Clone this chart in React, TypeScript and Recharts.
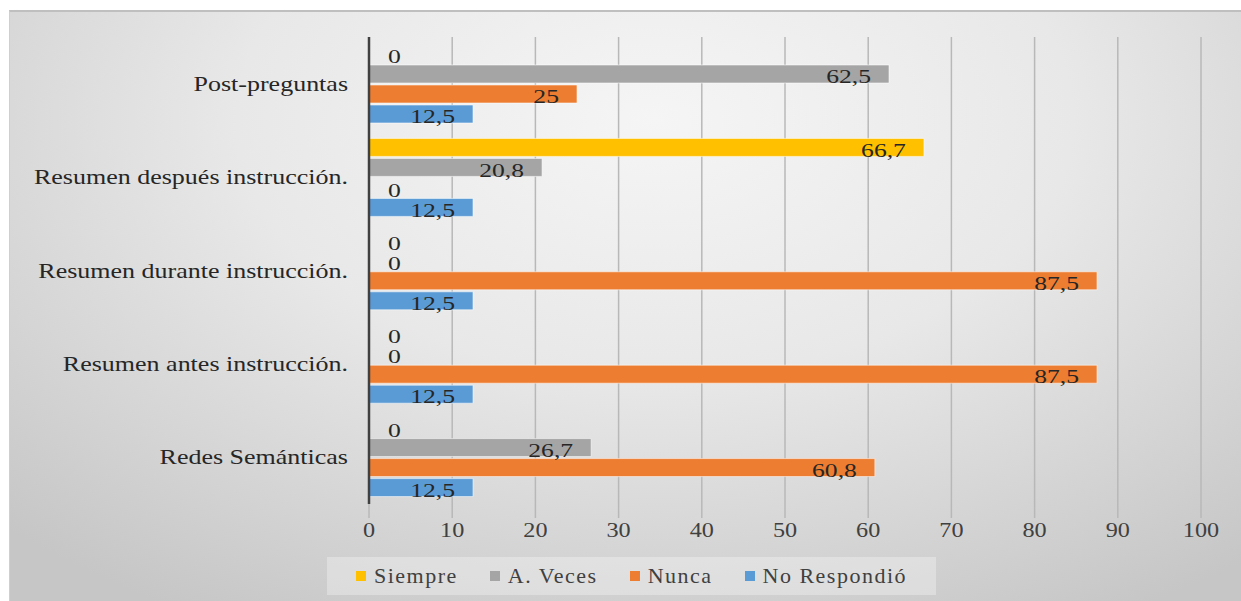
import React from 'react';
import { BarChart, Bar, XAxis, YAxis, CartesianGrid, LabelList, Legend, Cell } from 'recharts';

const categories = [
  'Post-preguntas',
  'Resumen después instrucción.',
  'Resumen durante instrucción.',
  'Resumen antes instrucción.',
  'Redes Semánticas',
];
const siempre = [0, 66.7, 0, 0, 0];
const aVeces = [62.5, 20.8, 0, 0, 26.7];
const nunca = [25, 0, 87.5, 87.5, 60.8];
const noRespondio = [12.5, 12.5, 12.5, 12.5, 12.5];
const xTicks = [0, 10, 20, 30, 40, 50, 60, 70, 80, 90, 100];

const seriesKeys = ['siempre', 'aVeces', 'nunca', 'noRespondio'];
const seriesNames = ['Siempre', 'A. Veces', 'Nunca', 'No Respondió'];

const COLORS: Record<string, string> = {
  siempre: '#FFC000',
  aVeces: '#A5A5A5',
  nunca: '#ED7D31',
  noRespondio: '#5B9BD5',
};

const FONT = '"Liberation Serif", "Times New Roman", serif';

const data = categories.map((name, i) => ({
  name,
  siempre: siempre[i],
  aVeces: aVeces[i],
  nunca: nunca[i],
  noRespondio: noRespondio[i],
}));

const CategoryTick = (props: any) => {
  const { x, y, payload } = props;
  return (
    <text
      transform={`translate(${x} ${y}) scale(1.3 1)`}
      textAnchor="end"
      dy="0.35em"
      fontFamily={FONT}
      fontSize={20}
      fill="#262626"
    >
      {payload.value}
    </text>
  );
};

const ValueTick = (props: any) => {
  const { x, y, payload } = props;
  return (
    <text
      transform={`translate(${x} ${y}) scale(1.1 1)`}
      textAnchor="middle"
      dy="0.71em"
      fontFamily={FONT}
      fontSize={22}
      fill="#404040"
    >
      {payload.value}
    </text>
  );
};

const BarValue = (props: any) => {
  const { x, y, width, height, value } = props;
  const zero = Number(value) === 0;
  const tx = zero ? x + 19 : x + width - 18;
  const ty = y + height / 2 + 2.5;
  return (
    <text
      transform={`translate(${tx} ${ty}) scale(1.35 1)`}
      textAnchor={zero ? 'start' : 'end'}
      dy="0.35em"
      fontFamily={FONT}
      fontSize={19}
      fill="#262626"
    >
      {String(value).replace('.', ',')}
    </text>
  );
};

const LegendBox = () => (
  <div
    style={{
      display: 'flex',
      alignItems: 'center',
      height: 38,
      paddingLeft: 29,
      background: 'rgba(255,255,255,0.3)',
      fontFamily: FONT,
      fontSize: 22,
      color: '#404040',
      boxSizing: 'border-box',
      whiteSpace: 'nowrap',
    }}
  >
    {seriesKeys.map((k, i) => (
      <div
        key={k}
        style={{
          display: 'flex',
          alignItems: 'center',
          flexShrink: 0,
          marginRight: i < seriesKeys.length - 1 ? 32 : 0,
        }}
      >
        <span style={{ width: 10, height: 10, background: COLORS[k], marginRight: 8, display: 'inline-block' }} />
        <span style={{ letterSpacing: 1.5, lineHeight: '38px' }}>{seriesNames[i]}</span>
      </div>
    ))}
  </div>
);

export default function App() {
  return (
    <div style={{ position: 'fixed', inset: 0, background: '#fff', overflow: 'hidden' }}>
      <div
        style={{
          position: 'absolute',
          left: 9,
          top: 10,
          width: 1240,
          height: 600,
          borderTop: '2px solid #bfbfbf',
          borderLeft: '1px solid #cfcfcf',
          background: 'radial-gradient(ellipse 75% 95% at 52% 18%, #f5f5f5 0%, #e8e8e8 45%, #c6c6c6 100%)',
        }}
      >
        <BarChart
          width={1231}
          height={589}
          data={data}
          layout="vertical"
          barSize={18}
          barGap={2}
          margin={{ top: 25, right: 40, left: 0, bottom: 57 }}
        >
          <CartesianGrid horizontal={false} vertical stroke="#b8b8b8" strokeWidth={1.5} />
          <XAxis
            type="number"
            domain={[0, 100]}
            ticks={xTicks}
            axisLine={false}
            tickLine={{ stroke: '#b8b8b8', strokeWidth: 1.5 }}
            tickSize={14}
            tickMargin={3}
            height={40}
            tick={<ValueTick />}
          />
          <YAxis
            type="category"
            dataKey="name"
            width={359}
            axisLine={{ stroke: '#404040', strokeWidth: 2.5 }}
            tickLine={false}
            tickSize={0}
            tickMargin={21}
            tick={<CategoryTick />}
          />
          <Legend
            layout="horizontal"
            verticalAlign="middle"
            align="center"
            content={<LegendBox />}
            wrapperStyle={{ position: 'absolute', left: 317, top: 545, width: 609, height: 38 }}
          />
          {seriesKeys.map((k, i) => (
            <Bar
              key={k}
              dataKey={k}
              name={seriesNames[i]}
              fill={COLORS[k]}
              stroke="#ffffff"
              strokeOpacity={0.55}
              strokeWidth={1}
              minPointSize={1}
              isAnimationActive={false}
            >
              {data.map((d: any, j) => (
                <Cell
                  key={j}
                  fill={d[k] === 0 ? 'none' : COLORS[k]}
                  stroke={d[k] === 0 ? 'none' : '#ffffff'}
                />
              ))}
              <LabelList dataKey={k} content={<BarValue />} />
            </Bar>
          ))}
        </BarChart>
      </div>
    </div>
  );
}
